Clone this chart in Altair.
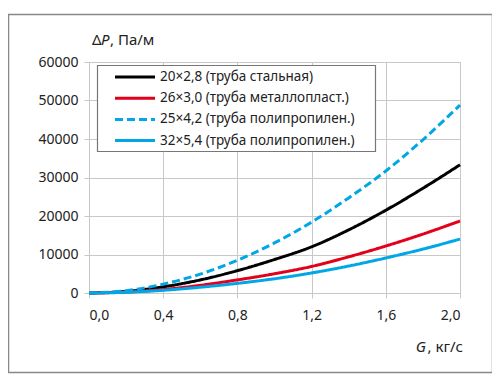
import altair as alt
import pandas as pd

G = [0.0, 0.2, 0.4, 0.6, 0.8, 1.0, 1.2, 1.4, 1.6, 1.8, 2.0]
series_names = [
    "20×2,8 (труба стальная)",
    "26×3,0 (труба металлопласт.)",
    "25×4,2 (труба полипропилен.)",
    "32×5,4 (труба полипропилен.)",
]
dp_steel = [0, 400, 1600, 3400, 5800, 8700, 12000, 16400, 21500, 27200, 33300]
dp_metalplast = [0, 250, 900, 2000, 3400, 5000, 6900, 9400, 12200, 15300, 18700]
dp_pp25 = [0, 600, 2300, 4900, 8500, 13000, 18400, 24700, 31700, 39800, 48800]
dp_pp32 = [0, 180, 700, 1500, 2500, 3700, 5200, 7000, 9100, 11400, 14000]

colors = ["#000000", "#e3001b", "#00a6e6", "#00a6e6"]
dashes = [[1, 0], [1, 0], [8, 4], [1, 0]]
FONT = "Noto Sans"
GRID = "#c8c8c8"

rows = []
for name, vals in zip(series_names, [dp_steel, dp_metalplast, dp_pp25, dp_pp32]):
    for g, v in zip(G, vals):
        rows.append({"G": g, "dP": v, "series": name})
df = pd.DataFrame(rows)
legend_df = pd.DataFrame({"series": series_names, "row": list(range(len(series_names)))})

color_enc = alt.Color("series:N", scale=alt.Scale(domain=series_names, range=colors),
                      sort=series_names, legend=None)
dash_enc = alt.StrokeDash("series:N", scale=alt.Scale(domain=series_names, range=dashes),
                          sort=series_names, legend=None)

lines = alt.Chart(df).mark_line(strokeWidth=3, interpolate="monotone").encode(
    x=alt.X("G:Q", scale=alt.Scale(domain=[0, 2.0], nice=False),
            axis=alt.Axis(values=[0, 0.4, 0.8, 1.2, 1.6, 2.0], format=".1f",
                          labelExpr="replace(format(datum.value, '.1f'), '.', ',')",
                          title=None, grid=True, gridColor=GRID, domainColor=GRID,
                          tickColor=GRID, tickSize=5, labelPadding=10,
                          labelFont=FONT, labelFontSize=14, labelColor="#222")),
    y=alt.Y("dP:Q", scale=alt.Scale(domain=[0, 60000], nice=False),
            axis=alt.Axis(values=[0, 10000, 20000, 30000, 40000, 50000, 60000],
                          format="d", title=None, grid=True, gridColor=GRID,
                          domainColor=GRID, tickColor=GRID, tickSize=5,
                          labelPadding=6, labelFont=FONT, labelFontSize=14,
                          labelColor="#222")),
    color=color_enc,
    strokeDash=dash_enc,
)

one = pd.DataFrame({"a": [0]})

legend_box = alt.Chart(one).mark_rect(fill="white", stroke="#777", strokeWidth=1.2).encode(
    x=alt.value(8.5), x2=alt.value(286.5), y=alt.value(3.5), y2=alt.value(89.5)
)
legend_base = alt.Chart(legend_df).transform_calculate(py="15 + 21.2 * datum.row")
legend_sym = legend_base.mark_rule(strokeWidth=3).encode(
    x=alt.value(26), x2=alt.value(66),
    y=alt.Y("py:Q", scale=None, axis=None),
    color=color_enc, strokeDash=dash_enc,
)
legend_txt = legend_base.mark_text(align="left", baseline="middle", font=FONT,
                                   fontSize=13.5, color="#222").encode(
    x=alt.value(71), y=alt.Y("py:Q", scale=None, axis=None), text="series:N"
)


def txt(s, x, y, align="left", italic=False, size=15):
    return alt.Chart(one).mark_text(
        text=s, align=align, baseline="alphabetic", font=FONT, fontSize=size,
        fontStyle="italic" if italic else "normal", color="#222"
    ).encode(x=alt.value(x), y=alt.value(y))


frame = alt.Chart(one).mark_rect(fill=None, stroke="#888", strokeWidth=1.5).encode(
    x=alt.value(-80.5), x2=alt.value(403.5), y=alt.value(-47.5), y2=alt.value(310.5)
)

chart = alt.layer(
    frame,
    lines,
    legend_box,
    legend_sym,
    legend_txt,
    txt("Δ", 3, -17),
    txt("P", 12, -17, italic=True),
    txt(", Па/м", 21, -17),
    txt("G", 337, 290, align="right", italic=True),
    txt(", кг/с", 374, 290, align="right"),
).properties(
    width=371, height=231,
    autosize=alt.AutoSizeParams(type="none"),
    padding={"left": 81, "top": 54, "right": 32, "bottom": 85},
).configure_view(stroke=GRID).configure(background="white")

chart.save("out.html", embed_options={"renderer": "svg", "actions": False})
